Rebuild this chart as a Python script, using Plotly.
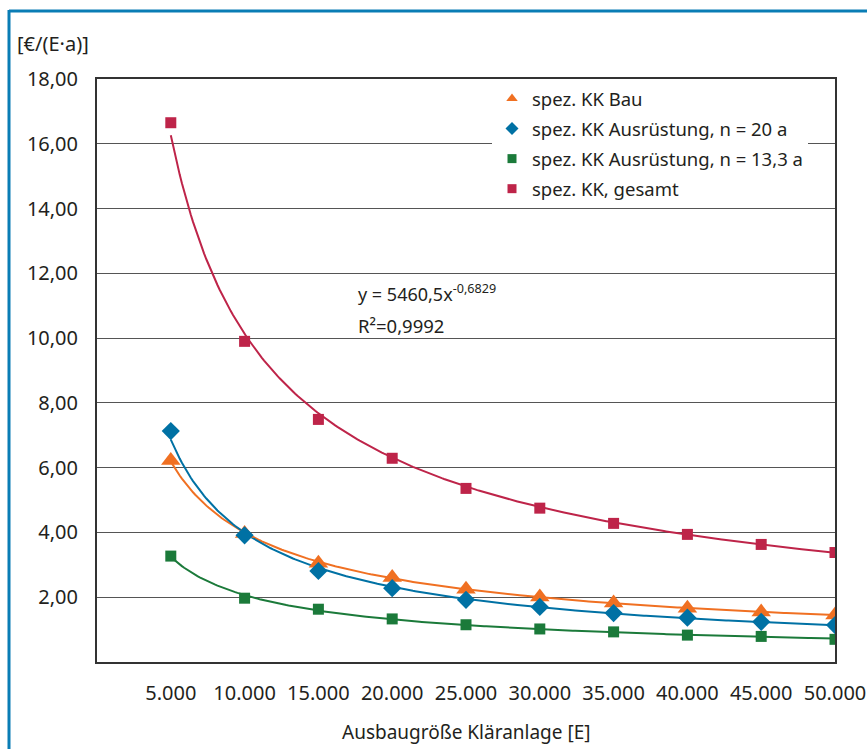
import numpy as np
import plotly.graph_objects as go

# Ausbaugröße der Kläranlage [E]
groesse = [5000, 10000, 15000, 20000, 25000, 30000, 35000, 40000, 45000, 50000]

# spezifische Kapitalkosten [€/(E·a)]
kk_bau = [6.22, 3.97, 3.05, 2.61, 2.25, 2.01, 1.82, 1.66, 1.54, 1.45]
kk_ausr_20 = [7.13, 3.91, 2.81, 2.28, 1.92, 1.70, 1.51, 1.37, 1.24, 1.14]
kk_ausr_13 = [3.27, 1.97, 1.63, 1.33, 1.15, 1.02, 0.93, 0.83, 0.79, 0.70]
kk_gesamt = [16.65, 9.90, 7.49, 6.29, 5.36, 4.75, 4.28, 3.94, 3.63, 3.38]

# Potenz-Trendlinie der Gesamtkosten (laut Beschriftung)
fit_a, fit_b = 5460.5, -0.6829

y_ticks = [2, 4, 6, 8, 10, 12, 14, 16, 18]

C_BAU = "#F07022"
C_A20 = "#0071A4"
C_A13 = "#1B7A3A"
C_GES = "#BE2449"
FONT = "Noto Sans"
TXT = "#231F20"

W, H = 867, 749
ML, MR, MT, MB = 97, 32, 79, 87
PW, PH = W - ML - MR, H - MT - MB


def px_x(px):
    return (px - ML) / PW


def px_y(py):
    return (H - MB - py) / PH


def power_fit(x, y):
    b, ln_a = np.polyfit(np.log(x), np.log(y), 1)
    return np.exp(ln_a), b


xs = np.linspace(groesse[0], groesse[-1], 300)

fig = go.Figure()

# Trendlinien
for vals, col in [(kk_ausr_13, C_A13), (kk_bau, C_BAU), (kk_ausr_20, C_A20)]:
    a, b = power_fit(groesse, vals)
    fig.add_trace(go.Scatter(x=xs, y=a * xs ** b, mode="lines",
                             line=dict(color=col, width=2),
                             showlegend=False, hoverinfo="skip"))
fig.add_trace(go.Scatter(x=xs, y=fit_a * xs ** fit_b, mode="lines",
                         line=dict(color=C_GES, width=2),
                         showlegend=False, hoverinfo="skip"))

# Messpunkte
series = [
    ("spez. KK Bau", kk_bau, "triangle-up", 17, 10, C_BAU, 1),
    ("spez. KK Ausrüstung, n = 20 a", kk_ausr_20, "diamond", 14, 10, C_A20, 2),
    ("spez. KK Ausrüstung, n = 13,3 a", kk_ausr_13, "square", 11, 9, C_A13, 3),
    ("spez. KK, gesamt", kk_gesamt, "square", 11, 9, C_GES, 4),
]
draw_order = [3, 2, 0, 1]
for i in draw_order:
    name, vals, sym, size, _, col, _ = series[i]
    fig.add_trace(go.Scatter(x=groesse, y=vals, mode="markers", name=name,
                             showlegend=False,
                             marker=dict(symbol=sym, size=size, color=col)))

# Legendeneinträge mit kleinen Symbolen
for name, _, sym, _, lsize, col, rank in series:
    fig.add_trace(go.Scatter(x=[None], y=[None], mode="markers", name=name,
                             legendrank=rank, legendgroup=f"g{rank}",
                             marker=dict(symbol=sym, size=lsize, color=col)))

fig.update_layout(
    width=W, height=H,
    margin=dict(l=ML, r=MR, t=MT, b=MB, autoexpand=False),
    paper_bgcolor="white", plot_bgcolor="white",
    separators=",.",
    font=dict(family=FONT, size=20, color=TXT),
    xaxis=dict(range=[0, 50000], tickvals=groesse, tickformat=",d",
               showgrid=False, zeroline=False, automargin=False,
               showline=True, linecolor="#333333", linewidth=2, mirror=True,
               ticks="", ticklabelstandoff=12,
               tickfont=dict(size=20)),
    yaxis=dict(range=[0, 18], tickvals=y_ticks, tickformat=".2f",
               showgrid=True, gridcolor="#555555", gridwidth=1,
               zeroline=False, automargin=False,
               showline=True, linecolor="#333333", linewidth=2, mirror=True,
               ticks="", ticklabelstandoff=13,
               tickfont=dict(size=20)),
    legend=dict(x=px_x(492), y=px_y(80), xanchor="left", yanchor="top",
                bgcolor="white", font=dict(size=18.5, color=TXT),
                itemwidth=30, tracegroupgap=3),
    showlegend=True,
    annotations=[
        dict(text="[€/(E·a)]", xref="paper", yref="paper",
             x=px_x(15), y=px_y(44), xanchor="left", yanchor="middle",
             showarrow=False, font=dict(size=20)),
        dict(text="Ausbaugröße Kläranlage [E]", xref="paper", yref="paper",
             x=0.5, y=px_y(732), xanchor="center", yanchor="middle",
             showarrow=False, font=dict(size=19)),
        dict(text="y = 5460,5x<sup>-0,6829</sup>",
             xref="paper", yref="paper", x=px_x(356), y=px_y(293),
             xanchor="left", yanchor="middle", align="left",
             showarrow=False, font=dict(size=18)),
        dict(text="R²=0,9992",
             xref="paper", yref="paper", x=px_x(356), y=px_y(325),
             xanchor="left", yanchor="middle", align="left",
             showarrow=False, font=dict(size=18.5)),
    ],
    shapes=[
        dict(type="line", xref="paper", yref="paper",
             x0=px_x(9), x1=px_x(870), y0=px_y(11), y1=px_y(11),
             line=dict(color="#0A7DB5", width=3)),
        dict(type="line", xref="paper", yref="paper",
             x0=px_x(9), x1=px_x(9), y0=px_y(10), y1=px_y(752),
             line=dict(color="#0A7DB5", width=3)),
    ],
)

fig.write_html("out.html")
